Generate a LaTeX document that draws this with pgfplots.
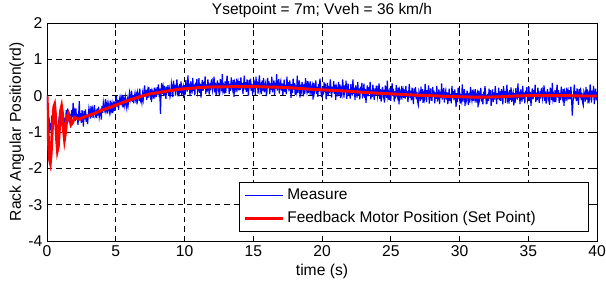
\documentclass[border=0pt]{standalone}
\usepackage{fontspec}
\setmainfont{Liberation Sans}
\usepackage{pgfplots}
\pgfplotsset{compat=1.18}
\pgfplotsset{
  every axis title/.style={at={(0.5,1)}, anchor=base, yshift=6pt, inner sep=0pt, font=\fontsize{11.6}{13.5}\selectfont},
  every axis x label/.style={at={(0.5,0)}, anchor=base, yshift=-26.25pt, inner sep=0pt, font=\fontsize{11.75}{13.5}\selectfont},
  every axis y label/.style={at={(0,0.5)}, xshift=-19.5pt, rotate=90, anchor=base, inner sep=0pt, font=\fontsize{11.75}{13.5}\selectfont},
}
\begin{document}
\begin{tikzpicture}
\begin{axis}[name=ax, scale only axis, width=412.5pt, height=163.5pt,
  xmin=0, xmax=40, ymin=-4, ymax=2,
  xtick={0,5,...,40}, ytick={-4,-3,...,2},
  grid=major, major grid style={black, line width=0.5pt, dash pattern=on 4pt off 3pt},
  tick align=inside, axis line style={line width=0.6pt}, tick style={black, line width=0.5pt},
  major tick length=4pt,
  tick label style={font=\fontsize{11.75}{13.5}\selectfont},
  /pgf/number format/assume math mode=true,
  title={Ysetpoint = 7m; Vveh = 36 km/h},
  xlabel={time (s)},
  ylabel={Rack Angular Position(rd)},
  legend style={at={(1,0)}, anchor=south east, xshift=-6pt, yshift=6.75pt, draw=black, line width=0.5pt, fill=white,
    font=\fontsize{11.6}{13.5}\selectfont, row sep=3.5pt, inner xsep=3pt, inner ysep=3pt},
  legend cell align=left,
  legend image code/.code={\draw[#1] (0pt,0pt) -- (28.7pt,0pt);},
]
\addplot[blue, line width=0.9pt] coordinates {
(0.00,0.00)(0.05,-0.45)(0.10,-0.85)(0.15,-0.60)(0.20,-1.00)(0.25,-0.75)(0.30,-0.95)(0.35,-0.55)(0.40,-0.80)(0.45,-0.50)
(0.50,-0.70)(0.55,-0.45)(0.60,-0.85)(0.65,-0.60)(0.70,-1.00)(0.75,-0.80)(0.80,-1.10)(0.85,-0.70)(0.90,-0.55)(0.95,-0.80)
(1.00,-0.45)(1.05,-0.70)(1.10,-0.55)(1.15,-0.90)(1.20,-0.65)(1.25,-0.95)(1.30,-0.60)(1.35,-0.75)(1.40,-0.40)(1.45,-0.65)
(1.50,-0.35)(1.55,-0.60)(1.60,-0.45)(1.65,-0.75)(1.70,-0.50)(1.75,-0.70)(1.80,-0.40)(1.85,-0.60)(1.90,-0.20)(1.95,-0.55)
(2.00,-0.45)(2.05,-0.70)(2.10,-0.35)(2.15,-0.65)(2.20,-0.50)(2.25,-0.80)(2.30,-0.55)(2.35,-0.15)(2.40,-0.68)(2.45,-0.48)
(2.50,-0.75)(2.55,-0.40)(2.60,-0.60)(2.65,-0.85)(2.70,-0.42)(2.75,-0.65)(2.80,-0.38)(2.85,-0.72)(2.90,-0.52)(2.95,-0.78)
(3.00,-0.56)(3.05,-0.34)(3.10,-0.44)(3.15,-0.63)(3.20,-0.28)(3.25,-0.49)(3.30,-0.38)(3.35,-0.61)(3.40,-0.41)(3.45,-0.26)
(3.50,-0.54)(3.55,-0.47)(3.60,-0.62)(3.65,-0.35)(3.70,-0.55)(3.75,-0.30)(3.80,-0.58)(3.85,-0.44)(3.90,-0.40)(3.95,-0.66)
(4.00,-0.28)(4.05,-0.47)(4.10,-0.19)(4.15,-0.33)(4.20,-0.41)(4.25,-0.09)(4.30,-0.38)(4.35,-0.26)(4.40,-0.49)(4.45,-0.21)
(4.50,-0.34)(4.55,-0.45)(4.60,-0.14)(4.65,-0.40)(4.70,-0.27)(4.75,-0.48)(4.80,-0.23)(4.85,-0.35)(4.90,-0.16)(4.95,-0.42)
(5.00,-0.23)(5.05,-0.01)(5.10,-0.30)(5.15,-0.12)(5.20,-0.39)(5.25,-0.15)(5.30,-0.05)(5.35,-0.26)(5.40,-0.08)(5.45,-0.20)
(5.50,0.02)(5.55,-0.32)(5.60,-0.13)(5.65,-0.27)(5.70,-0.04)(5.75,-0.19)(5.80,-0.33)(5.85,-0.11)(5.90,-0.25)(5.95,-0.06)
(6.00,0.08)(6.05,-0.12)(6.10,-0.02)(6.15,0.14)(6.20,-0.17)(6.25,0.02)(6.30,-0.21)(6.35,-0.05)(6.40,0.07)(6.45,-0.10)
(6.50,0.01)(6.55,-0.24)(6.60,0.09)(6.65,0.00)(6.70,-0.14)(6.75,0.19)(6.80,-0.13)(6.85,-0.06)(6.90,-0.19)(6.95,0.05)
(7.00,-0.10)(7.05,0.12)(7.10,0.28)(7.15,0.00)(7.20,0.16)(7.25,-0.12)(7.30,0.10)(7.35,-0.06)(7.40,0.24)(7.45,0.06)
(7.50,-0.02)(7.55,0.18)(7.60,-0.18)(7.65,0.14)(7.70,0.08)(7.75,-0.08)(7.80,0.22)(7.85,0.02)(7.90,0.12)(7.95,-0.04)
(8.00,0.23)(8.05,0.03)(8.10,0.31)(8.15,0.07)(8.20,0.19)(8.25,-0.50)(8.30,0.15)(8.35,0.35)(8.40,0.05)(8.45,0.21)
(8.50,-0.01)(8.55,0.27)(8.60,0.11)(8.65,-0.09)(8.70,0.25)(8.75,0.07)(8.80,0.29)(8.85,0.01)(8.90,0.17)(8.95,-0.03)
(9.00,0.05)(9.05,0.34)(9.10,0.21)(9.15,-0.04)(9.20,0.41)(9.25,0.14)(9.30,0.30)(9.35,0.00)(9.40,0.25)(9.45,0.45)
(9.50,0.09)(9.55,0.18)(9.60,-0.02)(9.65,0.32)(9.70,0.07)(9.75,0.39)(9.80,0.02)(9.85,0.21)(9.90,0.27)(9.95,-0.07)
(10.00,0.29)(10.05,0.03)(10.10,0.43)(10.15,0.23)(10.20,0.11)(10.25,0.56)(10.30,0.16)(10.35,0.33)(10.40,-0.01)(10.45,0.39)
(10.50,0.21)(10.55,0.06)(10.60,0.49)(10.65,0.13)(10.70,0.31)(10.75,0.01)(10.80,0.36)(10.85,0.19)(10.90,0.46)(10.95,0.09)
(11.00,0.18)(11.05,0.48)(11.10,0.08)(11.15,0.33)(11.20,-0.05)(11.25,0.28)(11.30,0.43)(11.35,0.13)(11.40,0.38)(11.45,0.21)
(11.50,0.53)(11.55,0.05)(11.60,0.31)(11.65,0.11)(11.70,0.45)(11.75,0.23)(11.80,0.03)(11.85,0.35)(11.90,0.15)(11.95,0.41)
(12.00,0.44)(12.05,0.16)(12.10,0.29)(12.15,0.52)(12.20,0.09)(12.25,0.36)(12.30,0.02)(12.35,0.26)(12.40,0.42)(12.45,0.19)
(12.50,0.34)(12.55,-0.01)(12.60,0.46)(12.65,0.32)(12.70,0.12)(12.75,0.59)(12.80,0.14)(12.85,0.24)(12.90,0.06)(12.95,0.39)
(13.00,0.07)(13.05,0.35)(13.10,0.55)(13.15,0.20)(13.20,0.40)(13.25,0.05)(13.30,0.33)(13.35,0.13)(13.40,0.50)(13.45,0.27)
(13.50,0.17)(13.55,0.43)(13.60,-0.03)(13.65,0.37)(13.70,0.30)(13.75,0.10)(13.80,0.47)(13.85,0.23)(13.90,0.35)(13.95,0.15)
(14.00,0.40)(14.05,0.15)(14.10,0.50)(14.15,0.20)(14.20,0.35)(14.25,0.05)(14.30,0.30)(14.35,0.55)(14.40,0.17)(14.45,0.37)
(14.50,0.10)(14.55,0.45)(14.60,0.25)(14.65,0.00)(14.70,0.43)(14.75,0.20)(14.80,0.47)(14.85,0.13)(14.90,0.33)(14.95,0.07)
(15.00,0.12)(15.05,0.44)(15.10,0.29)(15.15,0.02)(15.20,0.52)(15.25,0.22)(15.30,0.39)(15.35,0.06)(15.40,0.34)(15.45,0.56)
(15.50,0.16)(15.55,0.26)(15.60,0.04)(15.65,0.42)(15.70,0.14)(15.75,0.49)(15.80,0.09)(15.85,0.29)(15.90,0.36)(15.95,-0.01)
(16.00,0.12)(16.05,0.49)(16.10,0.22)(16.15,0.39)(16.20,0.04)(16.25,0.34)(16.30,0.16)(16.35,0.52)(16.40,0.09)(16.45,0.24)
(16.50,0.42)(16.55,0.02)(16.60,0.36)(16.65,0.19)(16.70,0.59)(16.75,0.14)(16.80,0.26)(16.85,0.46)(16.90,0.06)(16.95,0.32)
(17.00,0.40)(17.05,0.14)(17.10,0.34)(17.15,0.02)(17.20,0.22)(17.25,0.44)(17.30,0.10)(17.35,0.30)(17.40,0.04)(17.45,0.52)
(17.50,0.20)(17.55,0.37)(17.60,0.12)(17.65,0.42)(17.70,0.27)(17.75,-0.06)(17.80,0.32)(17.85,0.07)(17.90,0.47)(17.95,0.17)
(18.00,0.35)(18.05,0.02)(18.10,0.20)(18.15,0.10)(18.20,0.55)(18.25,0.08)(18.30,0.28)(18.35,0.42)(18.40,-0.05)(18.45,0.30)
(18.50,0.15)(18.55,0.38)(18.60,0.22)(18.65,-0.02)(18.70,0.32)(18.75,0.05)(18.80,0.48)(18.85,0.25)(18.90,0.12)(18.95,0.40)
(19.00,0.07)(19.05,0.27)(19.10,0.15)(19.15,0.39)(19.20,0.02)(19.25,0.22)(19.30,0.29)(19.35,-0.11)(19.40,0.35)(19.45,0.09)
(19.50,0.19)(19.55,0.42)(19.60,0.05)(19.65,0.25)(19.70,-0.03)(19.75,0.32)(19.80,0.12)(19.85,0.47)(19.90,0.27)(19.95,-0.01)
(20.00,-0.03)(20.05,0.23)(20.10,0.03)(20.15,0.37)(20.20,0.10)(20.25,0.33)(20.30,-0.10)(20.35,0.15)(20.40,0.35)(20.45,0.00)
(20.50,0.27)(20.55,0.07)(20.60,0.45)(20.65,0.20)(20.70,-0.05)(20.75,0.25)(20.80,0.10)(20.85,0.40)(20.90,0.05)(20.95,0.30)
(21.00,-0.12)(21.05,0.25)(21.10,0.18)(21.15,-0.02)(21.20,0.38)(21.25,0.03)(21.30,0.31)(21.35,-0.07)(21.40,0.15)(21.45,0.05)
(21.50,0.45)(21.55,0.23)(21.60,-0.05)(21.65,0.28)(21.70,0.11)(21.75,0.41)(21.80,-0.09)(21.85,0.18)(21.90,0.33)(21.95,0.01)
(22.00,0.18)(22.05,-0.08)(22.10,0.32)(22.15,0.12)(22.20,0.00)(22.25,0.45)(22.30,0.05)(22.35,0.22)(22.40,-0.12)(22.45,0.28)
(22.50,0.10)(22.55,-0.05)(22.60,0.38)(22.65,0.02)(22.70,0.20)(22.75,-0.10)(22.80,0.25)(22.85,0.08)(22.90,0.35)(22.95,-0.02)
(23.00,0.03)(23.05,0.33)(23.10,-0.07)(23.15,0.18)(23.20,-0.20)(23.25,0.13)(23.30,0.28)(23.35,-0.02)(23.40,0.23)(23.45,0.06)
(23.50,0.38)(23.55,-0.10)(23.60,0.16)(23.65,-0.04)(23.70,0.30)(23.75,0.08)(23.80,-0.12)(23.85,0.20)(23.90,0.00)(23.95,0.26)
(24.00,0.26)(24.05,-0.02)(24.10,0.11)(24.15,0.34)(24.20,-0.09)(24.25,0.18)(24.30,-0.16)(24.35,0.08)(24.40,0.24)(24.45,0.01)
(24.50,0.16)(24.55,-0.19)(24.60,0.28)(24.65,0.14)(24.70,-0.06)(24.75,0.41)(24.80,-0.04)(24.85,0.06)(24.90,-0.12)(24.95,0.21)
(25.00,-0.14)(25.05,0.14)(25.10,0.34)(25.15,-0.01)(25.20,0.19)(25.25,-0.16)(25.30,0.12)(25.35,-0.08)(25.40,0.29)(25.45,0.06)
(25.50,-0.04)(25.55,0.22)(25.60,-0.24)(25.65,0.16)(25.70,0.09)(25.75,-0.11)(25.80,0.26)(25.85,0.02)(25.90,0.14)(25.95,-0.06)
(26.00,0.17)(26.05,-0.08)(26.10,0.27)(26.15,-0.03)(26.20,0.12)(26.25,-0.18)(26.30,0.07)(26.35,0.32)(26.40,-0.06)(26.45,0.14)
(26.50,-0.13)(26.55,0.22)(26.60,0.02)(26.65,-0.23)(26.70,0.20)(26.75,-0.03)(26.80,0.24)(26.85,-0.10)(26.90,0.10)(26.95,-0.16)
(27.00,-0.25)(27.05,0.12)(27.10,0.05)(27.15,-0.15)(27.20,0.25)(27.25,-0.10)(27.30,0.18)(27.35,-0.20)(27.40,0.02)(27.45,-0.08)
(27.50,0.32)(27.55,0.10)(27.60,-0.18)(27.65,0.15)(27.70,-0.02)(27.75,0.28)(27.80,-0.22)(27.85,0.05)(27.90,0.20)(27.95,-0.12)
(28.00,-0.13)(28.05,0.24)(28.10,-0.03)(28.15,0.14)(28.20,-0.21)(28.25,0.09)(28.30,-0.09)(28.35,0.27)(28.40,-0.16)(28.45,-0.01)
(28.50,0.17)(28.55,-0.23)(28.60,0.11)(28.65,-0.06)(28.70,0.34)(28.75,-0.11)(28.80,0.01)(28.85,0.21)(28.90,-0.19)(28.95,0.07)
(29.00,0.15)(29.05,-0.11)(29.10,0.09)(29.15,-0.23)(29.20,-0.03)(29.25,0.19)(29.30,-0.15)(29.35,0.05)(29.40,-0.21)(29.45,0.27)
(29.50,-0.05)(29.55,0.12)(29.60,-0.13)(29.65,0.17)(29.70,0.02)(29.75,-0.31)(29.80,0.07)(29.85,-0.18)(29.90,0.22)(29.95,-0.08)
(30.00,0.11)(30.05,-0.22)(30.10,-0.04)(30.15,-0.14)(30.20,0.31)(30.25,-0.16)(30.30,0.04)(30.35,0.18)(30.40,-0.29)(30.45,0.06)
(30.50,-0.09)(30.55,0.14)(30.60,-0.02)(30.65,-0.26)(30.70,0.08)(30.75,-0.19)(30.80,0.24)(30.85,0.01)(30.90,-0.12)(30.95,0.16)
(31.00,-0.14)(31.05,0.06)(31.10,-0.06)(31.15,0.18)(31.20,-0.19)(31.25,0.01)(31.30,0.08)(31.35,-0.32)(31.40,0.14)(31.45,-0.12)
(31.50,-0.02)(31.55,0.21)(31.60,-0.16)(31.65,0.04)(31.70,-0.24)(31.75,0.11)(31.80,-0.09)(31.85,0.26)(31.90,0.06)(31.95,-0.22)
(32.00,-0.21)(32.05,0.05)(32.10,-0.15)(32.15,0.19)(32.20,-0.08)(32.25,0.15)(32.30,-0.28)(32.35,-0.03)(32.40,0.17)(32.45,-0.18)
(32.50,0.09)(32.55,-0.11)(32.60,0.27)(32.65,0.02)(32.70,-0.23)(32.75,0.07)(32.80,-0.08)(32.85,0.22)(32.90,-0.13)(32.95,0.12)
(33.00,-0.14)(33.05,0.18)(33.10,0.03)(33.15,-0.24)(33.20,0.26)(33.25,-0.04)(33.30,0.13)(33.35,-0.20)(33.40,0.08)(33.45,0.30)
(33.50,-0.10)(33.55,0.00)(33.60,-0.22)(33.65,0.16)(33.70,-0.12)(33.75,0.23)(33.80,-0.17)(33.85,0.03)(33.90,0.10)(33.95,-0.27)
(34.00,0.07)(34.05,-0.19)(34.10,0.21)(34.15,0.01)(34.20,-0.11)(34.25,0.34)(34.30,-0.06)(34.35,0.11)(34.40,-0.23)(34.45,0.17)
(34.50,-0.01)(34.55,-0.16)(34.60,0.27)(34.65,-0.09)(34.70,0.09)(34.75,-0.21)(34.80,0.14)(34.85,-0.03)(34.90,0.24)(34.95,-0.13)
(35.00,-0.05)(35.05,0.25)(35.10,-0.15)(35.15,0.10)(35.20,-0.28)(35.25,0.05)(35.30,0.20)(35.35,-0.10)(35.40,0.15)(35.45,-0.02)
(35.50,0.30)(35.55,-0.18)(35.60,0.08)(35.65,-0.12)(35.70,0.22)(35.75,0.00)(35.80,-0.20)(35.85,0.12)(35.90,-0.08)(35.95,0.18)
(36.00,0.20)(36.05,-0.08)(36.10,0.05)(36.15,0.28)(36.20,-0.15)(36.25,0.12)(36.30,-0.22)(36.35,0.02)(36.40,0.18)(36.45,-0.05)
(36.50,0.10)(36.55,-0.25)(36.60,0.22)(36.65,0.08)(36.70,-0.12)(36.75,0.35)(36.80,-0.10)(36.85,0.00)(36.90,-0.18)(36.95,0.15)
(37.00,-0.18)(37.05,0.10)(37.10,0.30)(37.15,-0.05)(37.20,0.15)(37.25,-0.20)(37.30,0.08)(37.35,-0.12)(37.40,0.25)(37.45,0.02)
(37.50,-0.08)(37.55,0.18)(37.60,-0.28)(37.65,0.12)(37.70,0.05)(37.75,-0.15)(37.80,0.22)(37.85,-0.02)(37.90,0.10)(37.95,-0.10)
(38.00,0.15)(38.05,-0.10)(38.10,0.25)(38.15,-0.05)(38.20,-0.55)(38.25,-0.20)(38.30,0.05)(38.35,0.30)(38.40,-0.08)(38.45,0.12)
(38.50,-0.15)(38.55,0.20)(38.60,0.00)(38.65,-0.25)(38.70,0.18)(38.75,-0.05)(38.80,0.22)(38.85,-0.12)(38.90,0.08)(38.95,-0.18)
(39.00,-0.26)(39.05,0.11)(39.10,0.04)(39.15,-0.16)(39.20,0.24)(39.25,-0.11)(39.30,0.17)(39.35,-0.21)(39.40,0.01)(39.45,-0.09)
(39.50,0.31)(39.55,0.09)(39.60,-0.19)(39.65,0.14)(39.70,-0.03)(39.75,0.27)(39.80,-0.23)(39.85,0.04)(39.90,0.19)(39.95,-0.13)
(40.00,0.10)
};
\addlegendentry{\makebox[221pt][l]{Measure}}
\addplot[red, line width=2.2pt] coordinates {
(0,0)(0.05,-0.5)(0.1,-1.2)(0.18,-1.75)(0.24,-1.85)(0.3,-1.6)(0.4,-0.8)(0.5,-0.3)(0.55,-0.25)(0.62,-0.55)
(0.7,-1.2)(0.76,-1.5)(0.82,-1.4)(0.92,-0.8)(1.0,-0.4)(1.06,-0.3)(1.13,-0.5)(1.2,-0.95)(1.27,-1.2)(1.35,-1.0)
(1.45,-0.6)(1.55,-0.5)(1.65,-0.62)(1.75,-0.8)(1.85,-0.75)(2.0,-0.6)(2.2,-0.63)(2.4,-0.65)(2.6,-0.6)(3,-0.55)
(3.5,-0.48)(4,-0.4)(4.5,-0.33)(5,-0.26)(5.5,-0.19)(6,-0.12)(6.5,-0.06)(7,0.0)(7.5,0.05)(8,0.08)
(8.5,0.11)(9,0.14)(9.5,0.17)(10,0.19)(11,0.22)(12,0.24)(13,0.245)(14,0.25)(15,0.25)(16,0.24)
(17,0.23)(18,0.21)(19,0.18)(20,0.16)(21,0.14)(22,0.12)(23,0.09)(24,0.07)(25,0.05)(26,0.03)
(27,0.01)(28,0.0)(29,-0.02)(30,-0.03)(31,-0.04)(32,-0.04)(33,-0.03)(34,-0.01)(35,0.0)(36,0.0)
(37,0.0)(38,0.0)(39,-0.01)(40,-0.01)
};
\addlegendentry{\makebox[221pt][l]{Feedback Motor Position (Set Point)}}
\end{axis}
\pgfresetboundingbox
\path (ax.south west) ++(-35.25pt,-33.75pt) rectangle ([shift={(6.75pt,17.25pt)}]ax.north east);
\end{tikzpicture}
\end{document}
